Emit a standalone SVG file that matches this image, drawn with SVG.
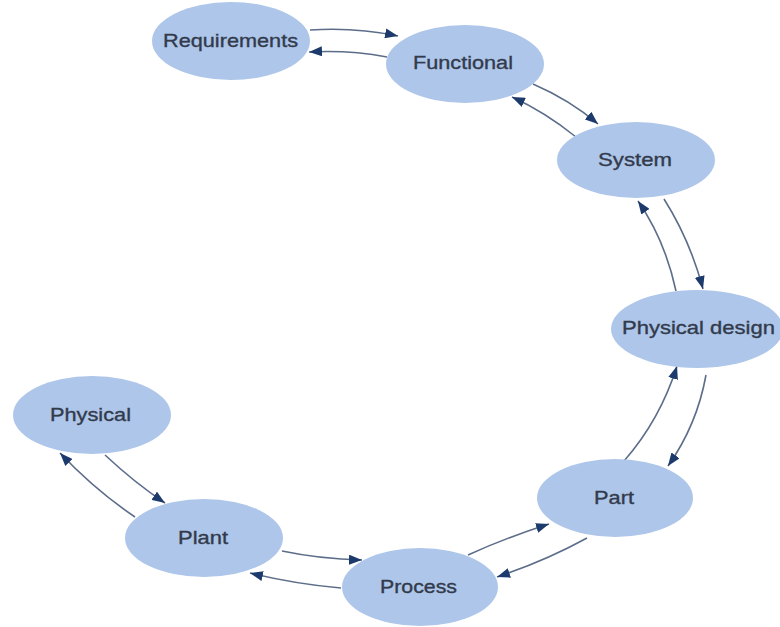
<svg xmlns="http://www.w3.org/2000/svg" width="780" height="627" viewBox="0 0 780 627">
  <style>
    .node ellipse { fill: #adc6e9; stroke: none; }
    .node text { font-family: "Liberation Sans", Arial, sans-serif; font-size: 19px; fill: #323a4c; stroke: #323a4c; stroke-width: 0.35; text-anchor: middle; }
    .edge { fill: none; stroke: #5c6d8a; stroke-width: 1.6; marker-end: url(#head); }
  </style>
  <defs>
    <marker id="head" markerUnits="userSpaceOnUse" markerWidth="14" markerHeight="10" refX="13" refY="5" orient="auto">
      <path d="M0,0 L13,5 L0,10 Z" fill="#1d3a6c"/>
    </marker>
  </defs>
  <rect width="780" height="627" fill="#ffffff"/>

  <!-- connectors: paired arrows between neighbouring stages -->
  <g id="connectors">
    <path class="edge" d="M310,30 Q355,27 398,36"/>
    <path class="edge" d="M387,57 Q350,50 309,52"/>
    <path class="edge" d="M533,84 Q570,100 598,124"/>
    <path class="edge" d="M576,137 Q545,112 512,97"/>
    <path class="edge" d="M664,199 Q690,240 703,289"/>
    <path class="edge" d="M676,291 Q665,240 638,201"/>
    <path class="edge" d="M706,375 Q697,425 668,466"/>
    <path class="edge" d="M624,461 Q660,420 677,366"/>
    <path class="edge" d="M587,538 Q545,561 497,577"/>
    <path class="edge" d="M468,555 Q505,538 549,524"/>
    <path class="edge" d="M341,588 Q295,584 250,573"/>
    <path class="edge" d="M282,551 Q320,559 362,560"/>
    <path class="edge" d="M135,517 Q95,490 60,453"/>
    <path class="edge" d="M105,455 Q135,483 165,503"/>
  </g>

  <g id="requirements" class="node">
    <ellipse cx="231" cy="41" rx="79" ry="39"/>
    <text x="230.5" y="47" textLength="135" lengthAdjust="spacingAndGlyphs">Requirements</text>
  </g>
  <g id="functional" class="node">
    <ellipse cx="465" cy="64" rx="79" ry="39"/>
    <text x="463" y="69" textLength="100" lengthAdjust="spacingAndGlyphs">Functional</text>
  </g>
  <g id="system" class="node">
    <ellipse cx="636" cy="160" rx="79" ry="38"/>
    <text x="635" y="166" textLength="74" lengthAdjust="spacingAndGlyphs">System</text>
  </g>
  <g id="physical-design" class="node">
    <ellipse cx="697" cy="329" rx="86" ry="39"/>
    <text x="698.5" y="334" textLength="153" lengthAdjust="spacingAndGlyphs">Physical design</text>
  </g>
  <g id="part" class="node">
    <ellipse cx="615" cy="498" rx="78" ry="39"/>
    <text x="614" y="504" textLength="40" lengthAdjust="spacingAndGlyphs">Part</text>
  </g>
  <g id="process" class="node">
    <ellipse cx="420" cy="587" rx="78" ry="39"/>
    <text x="418.5" y="593" textLength="77" lengthAdjust="spacingAndGlyphs">Process</text>
  </g>
  <g id="plant" class="node">
    <ellipse cx="204" cy="538" rx="79" ry="39"/>
    <text x="203" y="544" textLength="50" lengthAdjust="spacingAndGlyphs">Plant</text>
  </g>
  <g id="physical" class="node">
    <ellipse cx="92" cy="415" rx="79" ry="39"/>
    <text x="90.5" y="421" textLength="81" lengthAdjust="spacingAndGlyphs">Physical</text>
  </g>
</svg>
